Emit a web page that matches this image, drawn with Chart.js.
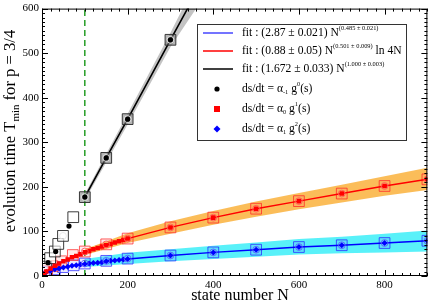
<!DOCTYPE html>
<html>
<head>
<meta charset="utf-8">
<script src="https://cdn.jsdelivr.net/npm/chart.js@4"></script>
<style>
html, body { margin: 0; padding: 0; background: #fff; }
</style>
</head>
<body>
<canvas id="chart" width="436" height="304"></canvas>
<script>
// axis ticks
var xTicks = [0, 200, 400, 600, 800];
var yTicks = [0, 100, 200, 300, 400, 500, 600];

// alpha_-1 g^0 (black)
var blackDotN = [14, 32, 63, 100, 150, 200, 300];
var blackDotT = [30, 55, 112, 177, 265, 352, 530];
var blackBoxN = [10, 19, 30, 38, 49, 73, 100, 150, 200, 300];
var blackBoxT = [21, 40, 55, 72, 90, 132, 177, 265, 352, 530];
var blackRingN = [49, 100, 150, 200, 300];
var blackRingT = [90, 177, 265, 352, 530];
var blackFitN = [100, 150, 200, 300, 345];
var blackFitT = [177, 265, 352, 530, 609];
var grayBandN = [100, 200, 300, 360];
var grayBandHi = [184, 364, 546, 660];
var grayBandLo = [170, 340, 514, 600];

// alpha_0 g^1 (red)
var redN = [5, 10, 20, 30, 40, 50, 60, 70, 80, 90, 100, 110, 120, 130, 140, 150, 160, 170, 180, 190, 200, 300, 400, 500, 600, 700, 800, 900];
var redT = [5, 10, 17, 23, 28, 33, 37, 42, 45, 49, 53, 56, 60, 63, 66, 69, 72, 75, 78, 81, 84, 109, 131, 151, 168, 185, 202, 217];
var redBoxN = [12, 25, 45, 72, 100, 150, 200, 300, 400, 500, 600, 700, 800, 900];
var redBoxT = [12, 22, 33, 47, 55, 71, 84, 109, 131, 151, 168, 185, 202, 217];
var redRingN = [100, 150, 200, 300, 400, 500, 600, 700, 800, 900];
var redRingT = [55, 71, 84, 109, 131, 151, 168, 185, 202, 217];
var orangeN = [100, 200, 300, 400, 500, 600, 700, 800, 900];
var orangeHi = [60, 96, 123, 146, 167, 186, 205, 224, 243];
var orangeLo = [47, 74, 95, 115, 133, 150, 165, 180, 193];

// alpha_1 g^2 (blue)
var blueN = [5, 10, 20, 30, 40, 50, 60, 70, 80, 90, 100, 110, 120, 130, 140, 150, 160, 170, 180, 190, 200, 300, 400, 500, 600, 700, 800, 900];
var blueT = [6, 9, 12, 15, 17, 19, 21, 23, 24, 26, 27, 28, 29, 30, 31, 33, 34, 35, 36, 37, 38, 46, 53, 59, 65, 69, 74, 79];
var blueBoxN = [11, 30, 49, 74, 100, 150, 200, 300, 400, 500, 600, 700, 800, 900];
var blueBoxT = [9, 15, 20, 24, 28, 34, 39, 46, 53, 59, 65, 69, 74, 79];
var blueRingN = [100, 150, 200, 300, 400, 500, 600, 700, 800, 900];
var blueRingT = [28, 34, 39, 46, 53, 59, 65, 69, 74, 79];
var cyanN = [100, 200, 300, 400, 500, 600, 700, 800, 900];
var cyanHi = [38, 52, 60, 68, 75, 83, 88, 95, 102];
var cyanLo = [20, 27, 33, 38, 43, 48, 51, 53, 55];

// green marker at N = 100
var markerN = [100, 100];
var markerT = [0, 600];

var legendRows = [
  { sym: 'line', color: 'rgb(70,70,255)', parts: [['fit : (2.87 ± 0.021) N', 0], ['(0.485 ± 0.021)', 1]] },
  { sym: 'line', color: 'rgb(255,0,0)', parts: [['fit : (0.88 ± 0.05) N', 0], ['(0.501 ± 0.009)', 1], [' ln 4N', 0]] },
  { sym: 'line', color: '#000', parts: [['fit : (1.672 ± 0.033) N', 0], ['(1.000 ± 0.003)', 1]] },
  { sym: 'circle', color: '#000', parts: [['ds/dt = α', 0], ['-1', -1], [' g', 0], ['0', 1], ['(s)', 0]] },
  { sym: 'rect', color: 'rgb(255,0,0)', parts: [['ds/dt = α', 0], ['0', -1], [' g', 0], ['1', 1], ['(s)', 0]] },
  { sym: 'diamond', color: 'rgb(0,0,255)', parts: [['ds/dt = α', 0], ['1', -1], [' g', 0], ['2', 1], ['(s)', 0]] }
];

var SERIF = '"Liberation Serif", "DejaVu Serif", serif';

function pts(xs, ys) {
  return xs.map(function (v, i) { return { x: v, y: ys[i] }; });
}

function band(xs, ys, color, order) {
  return { data: pts(xs, ys), fill: color ? '+1' : false, backgroundColor: color || 'transparent',
           borderWidth: 0, pointRadius: 0, order: order };
}

function richText(ctx, x, y, parts, size, small) {
  parts.forEach(function (p) {
    var fs = p[1] ? size * small : size;
    ctx.font = fs + 'px ' + SERIF;
    var dy = p[1] === 1 ? -size * 0.42 : (p[1] === -1 ? size * 0.28 : 0);
    ctx.fillText(p[0], x, y + dy);
    x += ctx.measureText(p[0]).width;
  });
  return x;
}

function richWidth(ctx, parts, size, small) {
  var w = 0;
  parts.forEach(function (p) {
    ctx.font = (p[1] ? size * small : size) + 'px ' + SERIF;
    w += ctx.measureText(p[0]).width;
  });
  return w;
}

var decor = {
  id: 'decor',
  afterDraw: function (chart) {
    var ctx = chart.ctx, a = chart.chartArea, x = chart.scales.x, y = chart.scales.y;
    ctx.save();
    ctx.strokeStyle = '#000';
    ctx.lineWidth = 1;
    ctx.strokeRect(a.left + 0.5, a.top + 0.5, a.right - a.left - 1, a.bottom - a.top - 1);
    ctx.beginPath();
    for (var v = 0; v <= 900; v += 20) {
      var px = Math.round(x.getPixelForValue(v)) + 0.5;
      var len = v % 200 === 0 ? 6 : 3;
      ctx.moveTo(px, a.bottom); ctx.lineTo(px, a.bottom - len);
      ctx.moveTo(px, a.top); ctx.lineTo(px, a.top + len);
    }
    for (var w = 0; w <= 600; w += 10) {
      var py = Math.round(y.getPixelForValue(w)) + 0.5;
      var l2 = w % 100 === 0 ? 6 : 3;
      ctx.moveTo(a.left, py); ctx.lineTo(a.left + l2, py);
      ctx.moveTo(a.right, py); ctx.lineTo(a.right - l2, py);
    }
    ctx.stroke();

    // legend box
    var bx = 197, by = 24, bw = 209, bh = 116;
    ctx.fillStyle = '#fff';
    ctx.fillRect(bx, by, bw, bh);
    ctx.strokeStyle = '#333';
    ctx.strokeRect(bx + 0.5, by + 0.5, bw, bh);
    ctx.textBaseline = 'middle';
    ctx.textAlign = 'left';
    var rowY = [33, 51, 69, 89, 109, 129];
    legendRows.forEach(function (r, i) {
      var cy = rowY[i];
      ctx.fillStyle = r.color;
      ctx.strokeStyle = r.color;
      if (r.sym === 'line') {
        ctx.lineWidth = 1.5;
        ctx.beginPath(); ctx.moveTo(203, cy); ctx.lineTo(233, cy); ctx.stroke();
      } else if (r.sym === 'circle') {
        ctx.beginPath(); ctx.arc(217, cy, 2.6, 0, Math.PI * 2); ctx.fill();
      } else if (r.sym === 'rect') {
        ctx.fillRect(214, cy - 3, 6, 6);
      } else {
        ctx.beginPath();
        ctx.moveTo(217, cy - 3.5); ctx.lineTo(220.5, cy); ctx.lineTo(217, cy + 3.5); ctx.lineTo(213.5, cy);
        ctx.closePath(); ctx.fill();
      }
      ctx.fillStyle = '#000';
      richText(ctx, 242, cy, r.parts, 11.6, 0.55);
    });

    // axis titles
    ctx.fillStyle = '#000';
    ctx.textAlign = 'center';
    ctx.font = '16px ' + SERIF;
    ctx.fillText('state number N', 240, 296);

    var yt = [['evolution time T', 0], ['min', -1], [' for p = 3/4', 0]];
    ctx.translate(11, 131);
    ctx.rotate(-Math.PI / 2);
    ctx.textAlign = 'left';
    var tw = richWidth(ctx, yt, 16.6, 0.66);
    richText(ctx, -tw / 2, 0, yt, 16.6, 0.66);
    ctx.restore();
  }
};

var boxStyle = { showLine: false, pointStyle: 'rect', pointRadius: 7.6, borderWidth: 1 };
var ringStyle = { showLine: false, pointStyle: 'circle', pointRadius: 3.4, borderWidth: 1, backgroundColor: 'transparent' };

var datasets = [
  band(grayBandN, grayBandHi, 'rgba(185,185,185,0.85)', 30),
  band(grayBandN, grayBandLo, null, 30),
  band(orangeN, orangeHi, 'rgba(250,178,60,0.85)', 30),
  band(orangeN, orangeLo, null, 30),
  band(cyanN, cyanHi, 'rgba(60,238,248,0.85)', 30),
  band(cyanN, cyanLo, null, 30),
  { data: pts(markerN, markerT), borderColor: 'rgb(20,150,20)', borderWidth: 1.4, borderDash: [6, 4],
    pointRadius: 0, fill: false, order: 25 },
  { data: pts(blackFitN, blackFitT), borderColor: '#000', borderWidth: 1.6, pointRadius: 0, fill: false, order: 10 },
  Object.assign({ data: pts(blackBoxN, blackBoxT), borderColor: 'rgba(40,40,40,0.9)', order: 6,
    backgroundColor: function (c) { return c.raw && c.raw.x >= 100 ? 'rgba(120,120,120,0.55)' : 'rgba(255,255,255,0.6)'; } }, boxStyle),
  Object.assign({ data: pts(redBoxN, redBoxT), borderColor: 'rgba(255,40,40,0.75)', backgroundColor: 'rgba(255,120,120,0.15)', order: 6 }, boxStyle),
  Object.assign({ data: pts(blueBoxN, blueBoxT), borderColor: 'rgba(40,40,255,0.75)', backgroundColor: 'rgba(120,120,255,0.15)', order: 6 }, boxStyle),
  { data: pts(redN, redT), borderColor: 'rgb(255,0,0)', borderWidth: 1.4, pointStyle: 'rect', pointRadius: 3.2,
    pointBorderWidth: 0, pointBackgroundColor: 'rgb(255,0,0)', fill: false, order: 5 },
  { data: pts(blueN, blueT), borderColor: 'rgb(0,0,255)', borderWidth: 1.4, pointStyle: 'rectRot', pointRadius: 3,
    pointBorderWidth: 0, pointBackgroundColor: 'rgb(0,0,255)', fill: false, order: 5 },
  Object.assign({ data: pts(blackRingN, blackRingT), borderColor: 'rgba(230,230,230,0.9)', order: 4 }, ringStyle),
  Object.assign({ data: pts(redRingN, redRingT), borderColor: 'rgba(255,90,90,0.9)', order: 4 }, ringStyle),
  Object.assign({ data: pts(blueRingN, blueRingT), borderColor: 'rgba(90,90,255,0.9)', order: 4 }, ringStyle),
  { data: pts(blackDotN, blackDotT), showLine: false, pointStyle: 'circle', pointRadius: 2.6, borderWidth: 0,
    backgroundColor: '#000', order: 1 }
];

var tickFont = { family: SERIF, size: 11 };

new Chart(document.getElementById('chart'), {
  type: 'line',
  data: { datasets: datasets },
  options: {
    responsive: false,
    animation: false,
    devicePixelRatio: 1,
    layout: { padding: { top: 4, right: 6, left: 0, bottom: 0 } },
    elements: { line: { tension: 0 } },
    plugins: { legend: { display: false }, tooltip: { enabled: false } },
    scales: {
      x: {
        type: 'linear', min: 0, max: 900,
        grid: { display: false, drawTicks: false, tickLength: 0 }, border: { display: false },
        ticks: { font: tickFont, color: '#000', padding: 3, maxRotation: 0 },
        afterBuildTicks: function (s) { s.ticks = xTicks.map(function (v) { return { value: v }; }); },
        afterFit: function (s) { s.height = 28; s.paddingLeft = 0; s.paddingRight = 0; }
      },
      y: {
        type: 'linear', min: 0, max: 600,
        grid: { display: false, drawTicks: false, tickLength: 0 }, border: { display: false },
        ticks: { font: tickFont, color: '#000', padding: 3 },
        afterBuildTicks: function (s) { s.ticks = yTicks.map(function (v) { return { value: v }; }); },
        afterFit: function (s) { s.width = 42; s.paddingTop = 0; s.paddingBottom = 0; }
      }
    }
  },
  plugins: [decor]
});
</script>
</body>
</html>
